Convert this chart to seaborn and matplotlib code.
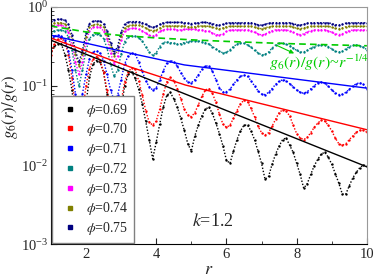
import numpy as np
import matplotlib
matplotlib.use("Agg")
import matplotlib.pyplot as plt
from matplotlib.lines import Line2D
from matplotlib.ticker import FixedLocator, LogLocator, NullFormatter
import seaborn as sns

# =====================================
# Data
# =====================================

r = np.round(np.arange(1.0, 10.01, 0.1), 1)

phi_labels = ["0.69", "0.70", "0.71", "0.72", "0.73", "0.74", "0.75"]
colors = ["#000000", "#ff0000", "#0000ff", "#008080", "#ff00ff", "#808000", "#000080"]

g_069 = [0.28, 0.32, 0.34, 0.34, 0.25, 0.16, 0.09, 0.035, 0.012, 0.02,
         0.06, 0.13, 0.19, 0.21, 0.2, 0.15, 0.08, 0.03, 0.012, 0.018,
         0.05, 0.1, 0.14, 0.15, 0.126, 0.091, 0.060, 0.036, 0.021, 0.012,
         0.0195, 0.033, 0.054, 0.076, 0.083, 0.069, 0.054, 0.039, 0.0275, 0.0186,
         0.015, 0.0234, 0.032, 0.042, 0.051, 0.054, 0.045, 0.034, 0.025, 0.0175,
         0.0115, 0.0105, 0.015, 0.021, 0.027, 0.032, 0.032, 0.027, 0.021, 0.015,
         0.0105, 0.0066, 0.0072, 0.0102, 0.0138, 0.0174, 0.021, 0.022, 0.0178, 0.0145,
         0.0105, 0.0076, 0.0051, 0.0058, 0.0076, 0.0098, 0.0118, 0.0138, 0.0145, 0.0126,
         0.0102, 0.0078, 0.0059, 0.0043, 0.0043, 0.0055, 0.0069, 0.0081, 0.0093, 0.010,
         0.0098]

g_070 = [0.25, 0.34, 0.39, 0.40, 0.36, 0.25, 0.126, 0.05, 0.025, 0.045,
         0.10, 0.166, 0.22, 0.235, 0.214, 0.15, 0.089, 0.045, 0.026, 0.032,
         0.063, 0.112, 0.15, 0.17, 0.162, 0.117, 0.078, 0.049, 0.035, 0.032,
         0.036, 0.051, 0.079, 0.112, 0.129, 0.117, 0.093, 0.069, 0.051, 0.043,
         0.041, 0.046, 0.058, 0.074, 0.089, 0.093, 0.081, 0.062, 0.044, 0.033,
         0.030, 0.032, 0.039, 0.049, 0.060, 0.066, 0.063, 0.052, 0.041, 0.031,
         0.0257, 0.024, 0.0257, 0.031, 0.038, 0.046, 0.050, 0.048, 0.042, 0.032,
         0.025, 0.022, 0.021, 0.0224, 0.0257, 0.030, 0.034, 0.037, 0.036, 0.032,
         0.027, 0.022, 0.0186, 0.0178, 0.0186, 0.021, 0.0234, 0.026, 0.0275, 0.0275,
         0.026]

g_071 = [0.38, 0.43, 0.44, 0.43, 0.38, 0.28, 0.16, 0.08, 0.05, 0.08,
         0.14, 0.22, 0.27, 0.28, 0.26, 0.21, 0.14, 0.089, 0.066, 0.076,
         0.12, 0.19, 0.24, 0.26, 0.257, 0.20, 0.155, 0.117, 0.098, 0.089,
         0.095, 0.12, 0.155, 0.195, 0.21, 0.204, 0.178, 0.148, 0.126, 0.112,
         0.11, 0.12, 0.138, 0.162, 0.18, 0.178, 0.155, 0.12, 0.095, 0.084,
         0.085, 0.091, 0.105, 0.12, 0.132, 0.138, 0.132, 0.117, 0.10, 0.087,
         0.079, 0.078, 0.083, 0.093, 0.105, 0.115, 0.12, 0.117, 0.107, 0.098,
         0.089, 0.083, 0.081, 0.085, 0.092, 0.101, 0.11, 0.112, 0.108, 0.10,
         0.089, 0.082, 0.078, 0.0785, 0.083, 0.091, 0.10, 0.107, 0.11, 0.105,
         0.091]

g_072 = [0.468, 0.50, 0.513, 0.513, 0.49, 0.417, 0.282, 0.158, 0.10, 0.158,
         0.282, 0.398, 0.447, 0.457, 0.447, 0.398, 0.302, 0.19, 0.132, 0.158,
         0.251, 0.363, 0.417, 0.427, 0.427, 0.407, 0.372, 0.316, 0.269, 0.245,
         0.263, 0.316, 0.355, 0.363, 0.355, 0.347, 0.339, 0.343, 0.355, 0.363,
         0.372, 0.372, 0.372, 0.363, 0.355, 0.339, 0.316, 0.295, 0.275, 0.263,
         0.266, 0.288, 0.316, 0.339, 0.351, 0.347, 0.331, 0.309, 0.282, 0.263,
         0.248, 0.251, 0.269, 0.302, 0.331, 0.347, 0.347, 0.339, 0.324, 0.302,
         0.282, 0.269, 0.269, 0.282, 0.302, 0.316, 0.327, 0.331, 0.327, 0.316,
         0.295, 0.275, 0.269, 0.275, 0.295, 0.316, 0.327, 0.331, 0.324, 0.309,
         0.288]

g_073 = [0.537, 0.575, 0.59, 0.59, 0.56, 0.479, 0.331, 0.20, 0.141, 0.20,
         0.355, 0.50, 0.55, 0.562, 0.55, 0.50, 0.398, 0.263, 0.19, 0.24,
         0.38, 0.49, 0.525, 0.537, 0.537, 0.525, 0.50, 0.468, 0.437, 0.427,
         0.447, 0.49, 0.513, 0.525, 0.525, 0.52, 0.513, 0.513, 0.52, 0.525,
         0.525, 0.52, 0.513, 0.513, 0.50, 0.49, 0.468, 0.447, 0.442, 0.457,
         0.49, 0.507, 0.513, 0.513, 0.513, 0.513, 0.513, 0.50, 0.479, 0.457,
         0.442, 0.452, 0.479, 0.50, 0.513, 0.513, 0.513, 0.513, 0.50, 0.479,
         0.457, 0.447, 0.457, 0.484, 0.50, 0.513, 0.513, 0.513, 0.513, 0.50,
         0.479, 0.457, 0.447, 0.457, 0.484, 0.50, 0.513, 0.513, 0.513, 0.513,
         0.507]

g_074 = [0.596, 0.624, 0.631, 0.631, 0.61, 0.543, 0.398, 0.251, 0.178, 0.251,
         0.417, 0.556, 0.596, 0.603, 0.596, 0.556, 0.447, 0.316, 0.24, 0.282,
         0.427, 0.543, 0.582, 0.589, 0.589, 0.589, 0.569, 0.543, 0.513, 0.501,
         0.513, 0.543, 0.569, 0.575, 0.575, 0.575, 0.575, 0.575, 0.575, 0.562,
         0.556, 0.562, 0.575, 0.575, 0.575, 0.569, 0.556, 0.537, 0.531, 0.543,
         0.562, 0.569, 0.569, 0.569, 0.569, 0.569, 0.569, 0.569, 0.556, 0.537,
         0.531, 0.543, 0.562, 0.569, 0.569, 0.569, 0.569, 0.569, 0.569, 0.556,
         0.537, 0.531, 0.543, 0.562, 0.569, 0.569, 0.569, 0.569, 0.569, 0.569,
         0.556, 0.537, 0.531, 0.543, 0.562, 0.569, 0.569, 0.569, 0.569, 0.569,
         0.569]

g_075 = [0.66, 0.69, 0.70, 0.70, 0.676, 0.603, 0.447, 0.282, 0.20, 0.282,
         0.468, 0.617, 0.66, 0.668, 0.66, 0.617, 0.50, 0.355, 0.263, 0.316,
         0.479, 0.603, 0.646, 0.653, 0.653, 0.653, 0.631, 0.603, 0.569, 0.55,
         0.569, 0.603, 0.631, 0.638, 0.638, 0.638, 0.638, 0.638, 0.631, 0.624,
         0.617, 0.624, 0.631, 0.638, 0.638, 0.631, 0.617, 0.596, 0.589, 0.603,
         0.624, 0.631, 0.631, 0.631, 0.631, 0.631, 0.631, 0.631, 0.617, 0.596,
         0.589, 0.603, 0.624, 0.631, 0.631, 0.631, 0.631, 0.631, 0.631, 0.617,
         0.596, 0.589, 0.603, 0.624, 0.631, 0.631, 0.631, 0.631, 0.631, 0.631,
         0.617, 0.596, 0.589, 0.603, 0.624, 0.631, 0.631, 0.631, 0.631, 0.631,
         0.631]

series = [g_069, g_070, g_071, g_072, g_073, g_074, g_075]

# fitted envelopes (solid lines)
fit_r_069 = [1.0, 10.0]
fit_v_069 = [0.38, 0.0095]
fit_r_070 = [1.0, 3.26, 4.83, 10.0]
fit_v_070 = [0.405, 0.174, 0.103, 0.028]
fit_r_071 = [1.0, 3.26, 4.8, 10.0]
fit_v_071 = [0.44, 0.26, 0.185, 0.094]

# guide line g6/g ~ r^(-1/4)
guide_r = [1, 2, 3, 4, 5, 6, 7, 8, 9, 10]
guide_v = [0.574, 0.483, 0.436, 0.406, 0.384, 0.367, 0.353, 0.341, 0.332, 0.323]

# =====================================
# Plot
# =====================================

sns.set_style("ticks")
plt.rcParams["font.family"] = ["Liberation Serif", "DejaVu Serif"]
plt.rcParams["mathtext.fontset"] = "stix"

fig = plt.figure(figsize=(3.74, 2.79), dpi=100)
ax = fig.add_axes([0.136, 0.125, 0.845, 0.85])

for vals, c in zip(series, colors):
    sns.lineplot(x=r, y=vals, color=c, ax=ax, linestyle=(0, (1, 1.3)), lw=1.0,
                 marker="o", markersize=1.7, markeredgewidth=0, legend=False)

sns.lineplot(x=fit_r_069, y=fit_v_069, color=colors[0], lw=1, ax=ax)
sns.lineplot(x=fit_r_070, y=fit_v_070, color=colors[1], lw=1, ax=ax)
sns.lineplot(x=fit_r_071, y=fit_v_071, color=colors[2], lw=1, ax=ax)
sns.lineplot(x=guide_r, y=guide_v, color="#00cc00", lw=1.2, ax=ax, linestyle=(0, (4, 2.5)))

ax.set_yscale("log")
ax.set_xlim(1, 10)
ax.set_ylim(1e-3, 1)
ax.xaxis.set_major_locator(FixedLocator([2, 4, 6, 8, 10]))
ax.xaxis.set_minor_locator(FixedLocator([3, 5, 7, 9]))
ax.yaxis.set_major_locator(LogLocator(base=10, numticks=10))
ax.yaxis.set_minor_locator(LogLocator(base=10, subs=np.arange(2, 10), numticks=20))
ax.yaxis.set_minor_formatter(NullFormatter())
ax.tick_params(axis="both", which="major", labelsize=10.5, length=4, width=0.8,
               direction="in", pad=3)
ax.tick_params(axis="y", which="major", pad=2)
ax.tick_params(axis="both", which="minor", length=2, width=0.6, direction="in")
ax.tick_params(top=False, right=False)

for s in ["top", "right"]:
    ax.spines[s].set_color("#999999")
for s in ["left", "bottom"]:
    ax.spines[s].set_color("black")

ax.set_xlabel(r"$r$", fontsize=13, labelpad=0)
ax.set_ylabel(r"$g_{\mathit{6}}(r)/g(r)$", fontsize=12)
ax.yaxis.set_label_coords(-0.098, 0.58)

ax.text(5.03, 0.0017, r"$k$=1.2", fontsize=13, va="baseline")
ax.text(7.2, 0.169, r"$g_{\mathit{6}}(r)/g(r)$~$r^{-1/4}$", fontsize=11.5,
        color="#00cc00", va="baseline")
ax.annotate("", xy=(8.0, 0.25), xytext=(7.35, 0.34),
            arrowprops=dict(arrowstyle="-|>", color="#00cc00", lw=0.8,
                            mutation_scale=6))

handles = [Line2D([], [], marker="s", ms=2.2, ls="none", color=c) for c in colors]
labels = [r"$\phi$=" + p for p in phi_labels]
leg = ax.legend(handles, labels, loc="lower left", fontsize=10, frameon=True,
                fancybox=False, edgecolor="#808080", framealpha=1,
                borderaxespad=0.1, handlelength=1.8, labelspacing=0.2,
                handletextpad=0.2, borderpad=0.4)
leg.get_frame().set_linewidth(1)

fig.savefig("out.png", dpi=100)
